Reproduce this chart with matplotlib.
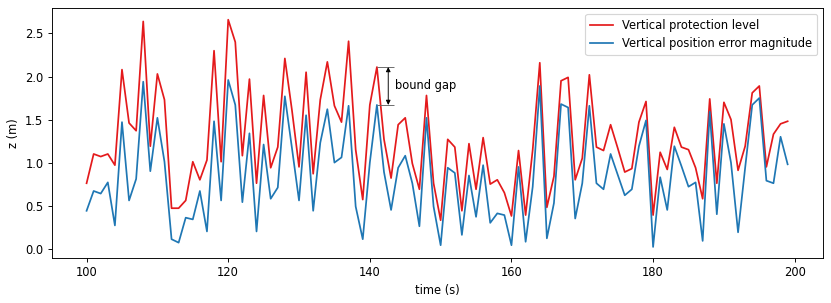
import numpy as np
import matplotlib.pyplot as plt

time = np.arange(100, 200)

vpl = [0.76, 1.10, 1.07, 1.10, 0.97, 2.08, 1.46, 1.37, 2.64, 1.19,
       2.03, 1.73, 0.47, 0.47, 0.56, 1.01, 0.80, 1.03, 2.30, 1.01,
       2.66, 2.40, 1.08, 1.97, 0.76, 1.78, 0.94, 1.18, 2.21, 1.61,
       0.95, 2.05, 0.87, 1.73, 2.17, 1.66, 1.47, 2.41, 1.15, 0.57,
       1.67, 2.11, 1.27, 0.82, 1.44, 1.52, 0.99, 0.69, 1.78, 0.76,
       0.33, 1.27, 1.18, 0.44, 1.22, 0.69, 1.29, 0.75, 0.80, 0.65,
       0.38, 1.14, 0.39, 1.15, 2.16, 0.48, 0.84, 1.95, 1.99, 0.80,
       1.05, 2.02, 1.18, 1.14, 1.44, 1.17, 0.89, 0.93, 1.47, 1.71,
       0.39, 1.12, 0.92, 1.41, 1.18, 1.15, 0.94, 0.58, 1.74, 0.76,
       1.70, 1.50, 0.91, 1.19, 1.81, 1.89, 0.95, 1.33, 1.45, 1.48]

vpe = [0.44, 0.67, 0.64, 0.77, 0.27, 1.47, 0.56, 0.81, 1.94, 0.90,
       1.52, 1.01, 0.11, 0.07, 0.36, 0.34, 0.67, 0.20, 1.48, 0.56,
       1.96, 1.67, 0.54, 1.34, 0.20, 1.21, 0.58, 0.71, 1.77, 1.17,
       0.56, 1.55, 0.44, 1.23, 1.62, 1.00, 1.06, 1.66, 0.49, 0.11,
       1.00, 1.67, 0.89, 0.45, 0.94, 1.08, 0.76, 0.26, 1.52, 0.49,
       0.04, 0.94, 0.88, 0.16, 0.85, 0.37, 0.97, 0.30, 0.41, 0.39,
       0.04, 0.95, 0.08, 0.72, 1.89, 0.12, 0.53, 1.68, 1.64, 0.35,
       0.76, 1.66, 0.76, 0.69, 1.10, 0.86, 0.62, 0.69, 1.19, 1.49,
       0.02, 0.83, 0.45, 1.19, 0.96, 0.72, 0.77, 0.09, 1.59, 0.40,
       1.45, 1.00, 0.19, 0.94, 1.67, 1.75, 0.79, 0.76, 1.30, 0.98]

# bound gap annotation at t=141
gap_t = 141
gap_hi = vpl[gap_t - 100]
gap_lo = vpe[gap_t - 100]

# drawn at 10in wide and 83 dpi -> 831x303 px
fig = plt.figure(figsize=(831 / 83, 303 / 83), dpi=83)
ax = fig.add_axes([0.062, 0.1475, 0.928, 0.825])

ax.plot(time, vpl, color='#e41a1c', lw=1.5, label='Vertical protection level')
ax.plot(time, vpe, color='#1f77b4', lw=1.5, label='Vertical position error magnitude')

ax.hlines([gap_hi, gap_lo], gap_t, gap_t + 2.45, color='0.4', lw=0.8)
ax.annotate('', xy=(gap_t + 1.6, gap_hi), xytext=(gap_t + 1.6, gap_lo),
            arrowprops=dict(arrowstyle='<|-|>', color='black', lw=0.8,
                            shrinkA=0, shrinkB=0, mutation_scale=8))
ax.text(gap_t + 2.5, (gap_hi + gap_lo) / 2, 'bound gap', va='center', ha='left')

ax.set_xlabel('time (s)')
ax.set_ylabel('z (m)')
ax.legend(loc='upper right')

fig.savefig('out.png', dpi=83)
